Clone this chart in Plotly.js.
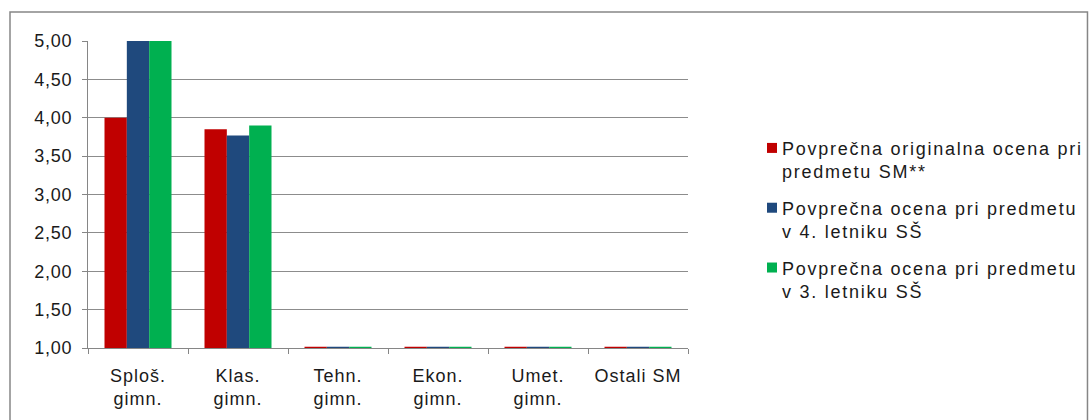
<!DOCTYPE html>
<html><head><meta charset="utf-8">
<script src="https://cdn.plot.ly/plotly-3.0.1.min.js"></script>
<style>
html,body{margin:0;padding:0;background:#fff;}
#chart{width:1091px;height:420px;}
.legend .legendtext{letter-spacing:1.75px;}
.xtick text{letter-spacing:1px;}
.ytick text{letter-spacing:0.8px;}
</style>
</head><body><div id="chart"></div>
<script>
var categories = ["Sploš.<br>gimn.", "Klas.<br>gimn.", "Tehn.<br>gimn.", "Ekon.<br>gimn.", "Umet.<br>gimn.", "Ostali SM"];
var seriesNames = ["Povprečna originalna ocena pri<br>predmetu SM**", "Povprečna ocena pri predmetu<br>v 4. letniku SŠ", "Povprečna ocena pri predmetu<br>v 3. letniku SŠ"];
var originalna = [4.00, 3.85, 1.015, 1.015, 1.015, 1.015];
var letnik4 = [5.00, 3.77, 1.015, 1.015, 1.015, 1.015];
var letnik3 = [5.00, 3.90, 1.015, 1.015, 1.015, 1.015];
var yTicks = [1, 1.5, 2, 2.5, 3, 3.5, 4, 4.5, 5];
var colors = ["#C00000", "#1F497D", "#00B050"];
var vals = [originalna, letnik4, letnik3];
var data = vals.map(function(v, i){
  return {type:"bar", x:categories, y:v, name:seriesNames[i], legendgroup:"g"+i, marker:{color:colors[i]}, hoverinfo:"none"};
});
var fam = "Liberation Sans, Arial, sans-serif";
var font = {family:fam, size:18, color:"#1a1a1a"};
var layout = {
  width:1091, height:420,
  margin:{l:88, r:403, t:41, b:72, pad:0},
  paper_bgcolor:"#fff", plot_bgcolor:"#fff",
  separators:", ",
  barmode:"group", bargap:0.33, bargroupgap:0,
  font:font,
  showlegend:true,
  legend:{x:1.09, y:0.711, xanchor:"left", yanchor:"top", valign:"top", font:{family:fam, size:18, color:"#1a1a1a"}, tracegroupgap:10, itemwidth:30, traceorder:"grouped", bgcolor:"rgba(0,0,0,0)"},
  xaxis:{type:"category", tickson:"boundaries", ticks:"outside", ticklen:5, tickcolor:"#868686", showline:true, linecolor:"#868686", linewidth:1, showgrid:false, tickfont:font, ticklabelstandoff:11, automargin:false},
  yaxis:{range:[1,5], tickvals:yTicks, tickformat:".2f", ticks:"outside", ticklen:5, tickcolor:"#868686", showline:true, linecolor:"#868686", gridcolor:"#8c8c8c", gridwidth:1, zeroline:false, tickfont:font, ticklabelstandoff:6, automargin:false},
  shapes:[{type:"rect", xref:"paper", yref:"paper", x0:-0.13, x1:1.6658, y0:-0.3, y1:1.0945, line:{color:"#868686", width:1.5}, fillcolor:"rgba(0,0,0,0)", layer:"below"}]
};
Plotly.newPlot("chart", data, layout, {staticPlot:true}).then(function(){
  document.querySelectorAll('.legend .scrollbox').forEach(function(g){ g.removeAttribute('clip-path'); });
  document.querySelectorAll('.legend [clip-path]').forEach(function(g){ g.removeAttribute('clip-path'); });
  document.querySelectorAll('.legend .legendpoints').forEach(function(g){ g.setAttribute('transform','translate(10,0)'); });
  document.querySelectorAll('.legend .legendpoints path').forEach(function(p){ p.setAttribute('d','M5,5H-5V-5H5Z'); });
});
</script></body></html>
